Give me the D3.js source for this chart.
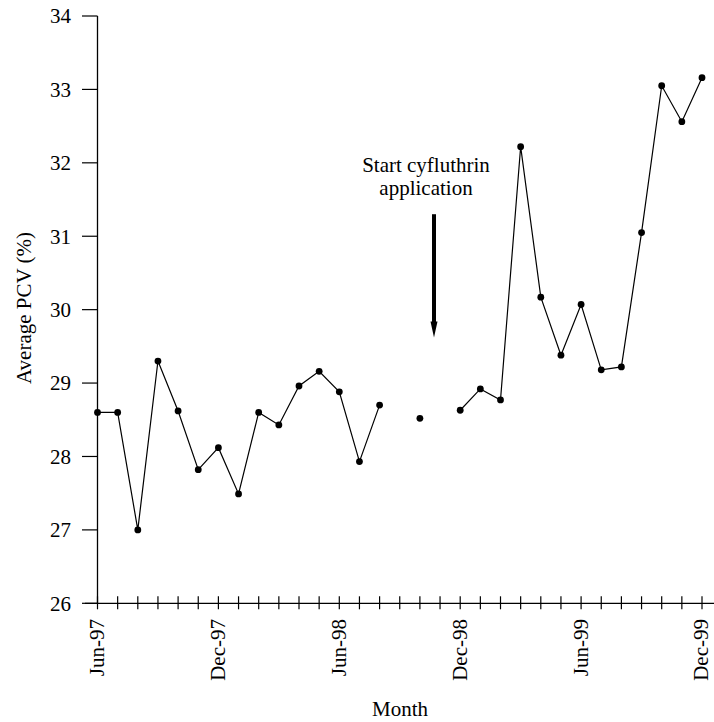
<!DOCTYPE html>
<html>
<head>
<meta charset="utf-8">
<script src="https://cdn.jsdelivr.net/npm/d3@7"></script>
<style>
  html, body { margin: 0; padding: 0; background: #fff; }
  svg { display: block; }
  text { font-family: "Liberation Serif", "Times New Roman", serif; fill: #000; }
</style>
</head>
<body>
<div id="chart"></div>
<script>
// ---- data ----
const months = ["Jun-97","Jul-97","Aug-97","Sep-97","Oct-97","Nov-97","Dec-97",
  "Jan-98","Feb-98","Mar-98","Apr-98","May-98","Jun-98","Jul-98","Aug-98","Sep-98",
  "Oct-98","Nov-98","Dec-98","Jan-99","Feb-99","Mar-99","Apr-99","May-99","Jun-99",
  "Jul-99","Aug-99","Sep-99","Oct-99","Nov-99","Dec-99"];
const pcv = [28.6, 28.6, 27.0, 29.3, 28.62, 27.82, 28.12, 27.49, 28.6, 28.43, 28.96,
  29.16, 28.88, 27.93, 28.70, null, 28.52, null, 28.63, 28.92, 28.77, 32.22, 30.17,
  29.38, 30.07, 29.18, 29.22, 31.05, 33.05, 32.56, 33.16];
const labeledMonths = ["Jun-97","Dec-97","Jun-98","Dec-98","Jun-99","Dec-99"];
const yTicks = [26, 27, 28, 29, 30, 31, 32, 33, 34];
const annotationLines = ["Start cyfluthrin", "application"];
const annotationMonth = 16.7;     // between Oct-98 and Nov-98
const arrowFrom = 31.3, arrowTo = 29.62;

// ---- layout ----
const W = 714, H = 722;
const svg = d3.select("#chart").append("svg").attr("width", W).attr("height", H);

const x = d3.scaleLinear().domain([0, months.length - 1]).range([97.5, 702]);
const y = d3.scaleLinear().domain([26, 34]).range([603.3, 16]);

const data = months.map((m, i) => ({ i, m, v: pcv[i] }));

// x axis line
svg.append("line").attr("x1", 85).attr("x2", W).attr("y1", y(26)).attr("y2", y(26))
  .attr("stroke", "#000").attr("stroke-width", 1.3);
// x ticks (crossing)
svg.append("g").selectAll("line").data(data).join("line")
  .attr("x1", d => x(d.i)).attr("x2", d => x(d.i))
  .attr("y1", y(26) - 7).attr("y2", y(26) + 6)
  .attr("stroke", "#000").attr("stroke-width", 1.2);
// x tick labels
svg.append("g").selectAll("text").data(data.filter(d => labeledMonths.includes(d.m))).join("text")
  .attr("transform", d => `translate(${x(d.i) - 0.5},619) rotate(-90)`)
  .attr("text-anchor", "end").attr("dy", "0.33em")
  .style("font-size", "21px").text(d => d.m);

// y axis
svg.append("line").attr("x1", x(0)).attr("x2", x(0)).attr("y1", y(34)).attr("y2", y(26))
  .attr("stroke", "#000").attr("stroke-width", 1.3);
svg.append("g").selectAll("line").data(yTicks).join("line")
  .attr("x1", 82).attr("x2", x(0)).attr("y1", d => y(d)).attr("y2", d => y(d))
  .attr("stroke", "#000").attr("stroke-width", 1.2);
svg.append("g").selectAll("text").data(yTicks).join("text")
  .attr("x", 71).attr("y", d => y(d)).attr("dy", "0.35em").attr("text-anchor", "end")
  .style("font-size", "21px").text(d => d);

// axis titles
svg.append("text").attr("transform", `translate(31,308) rotate(-90)`)
  .attr("text-anchor", "middle").style("font-size", "21px").text("Average PCV (%)");
svg.append("text").attr("x", 400).attr("y", 716).attr("text-anchor", "middle")
  .style("font-size", "21px").text("Month");

// line + points
const line = d3.line().defined(d => d.v != null).x(d => x(d.i)).y(d => y(d.v));
svg.append("path").datum(data).attr("d", line)
  .attr("fill", "none").attr("stroke", "#000").attr("stroke-width", 1.2);
svg.append("g").selectAll("circle").data(data.filter(d => d.v != null)).join("circle")
  .attr("cx", d => x(d.i)).attr("cy", d => y(d.v)).attr("r", 3.4).attr("fill", "#000");

// annotation
const ax = x(annotationMonth);
svg.append("g").selectAll("text").data(annotationLines).join("text")
  .attr("x", ax - 8).attr("y", (d, i) => 172 + i * 23)
  .attr("text-anchor", "middle").style("font-size", "21px").text(d => d);
svg.append("line").attr("x1", ax).attr("x2", ax).attr("y1", y(arrowFrom)).attr("y2", y(arrowTo) - 12)
  .attr("stroke", "#000").attr("stroke-width", 4);
svg.append("path")
  .attr("d", `M${ax - 3.5},${y(arrowTo) - 16} L${ax + 3.5},${y(arrowTo) - 16} L${ax},${y(arrowTo)} Z`)
  .attr("fill", "#000");
</script>
</body>
</html>
